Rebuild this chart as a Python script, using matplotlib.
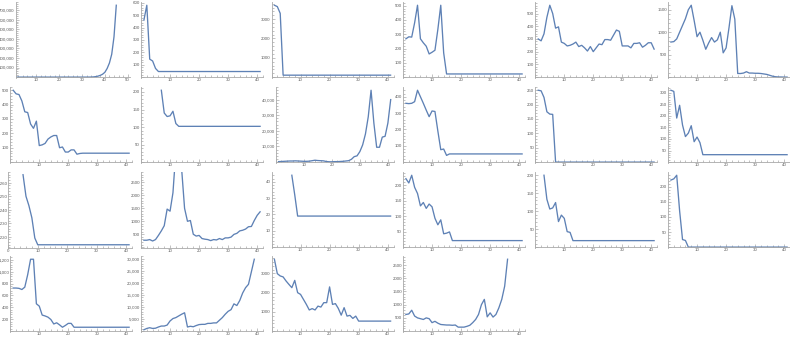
import matplotlib
matplotlib.use('Agg')
import matplotlib.pyplot as plt
from matplotlib.ticker import MultipleLocator, AutoMinorLocator, FuncFormatter

plt.rcParams['font.family'] = ['Liberation Sans', 'DejaVu Sans']

# ---- data (one series per small panel) ----
p01_start = 1
p01 = [0, 0, 0, 0, 0, 0, 0, 0, 0, 0, 0, 0, 0, 0, 0, 0, 0, 0, 0, 0,
       0, 0, 0, 0, 0, 0, 0, 0, 0, 0, 0, 0, 0, 500, 2000, 5000, 10000,
       18000, 30000, 50000, 90000, 147000, 238000, 420000, 750000]
p02_start = 1
p02 = [460, 580, 145, 130, 70, 45, 45, 45, 45, 45, 45, 45, 45, 45, 45, 45,
       45, 45, 45, 45, 45, 45, 45, 45, 45, 45, 45, 45, 45, 45, 45, 45, 45,
       45, 45, 45, 45, 45, 45, 45, 45]
p03_start = 1
p03 = [3720, 3650, 3300, 100, 100, 100, 100, 100, 100, 100, 100, 100, 100,
       100, 100, 100, 100, 100, 100, 100, 100, 100, 100, 100, 100, 100, 100,
       100, 100, 100, 100, 100, 100, 100, 100, 100, 100, 100, 100, 100, 100]
p04_start = 1
p04 = [268, 282, 280, 380, 503, 268, 240, 216, 162, 174, 188, 334, 503, 170,
       22, 22, 22, 22, 22, 22, 22, 22, 22, 22, 22, 22, 22, 22, 22, 22, 22,
       22, 22, 22, 22, 22, 22, 22, 22, 22, 22]
p05_start = 1
p05 = [300, 285, 340, 470, 565, 500, 385, 395, 275, 265, 245, 250, 260, 275,
       240, 250, 230, 205, 240, 200, 230, 260, 255, 295, 295, 290, 330, 370,
       360, 245, 245, 245, 230, 265, 265, 270, 235, 250, 270, 270, 220]
p06_start = 1
p06 = [780, 790, 850, 1000, 1150, 1300, 1500, 1600, 1260, 900, 1000, 820,
       620, 760, 880, 780, 830, 1000, 540, 650, 1100, 1590, 1290, 80, 80, 90,
       120, 90, 90, 85, 85, 80, 70, 60, 40, 20, 8, 3, 2, 0, 0]
p07_start = 1
p07 = [500, 475, 470, 425, 350, 345, 265, 235, 285, 115, 120, 130, 160, 175,
       185, 185, 100, 105, 70, 70, 85, 85, 55, 60, 62, 62, 62, 62, 62, 62,
       62, 62, 62, 62, 62, 62, 62, 62, 62, 62, 62]
p08_start = 7
p08 = [205, 140, 130, 132, 145, 110, 102, 102, 102, 102, 102, 102, 102, 102,
       102, 102, 102, 102, 102, 102, 102, 102, 102, 102, 102, 102, 102, 102,
       102, 102, 102, 102, 102, 102, 102]
p09_start = 1
p09 = [300, 400, 500, 600, 700, 700, 800, 700, 600, 500, 500, 600, 900,
       1200, 1000, 900, 800, 400, 200, 200, 300, 300, 400, 500, 700, 900,
       1800, 3500, 4000, 6700, 11000, 18000, 29000, 46000, 25000, 9500, 9500,
       16000, 16500, 25000, 40000]
p10_start = 1
p10 = [360, 358, 360, 370, 440, 400, 360, 318, 278, 313, 310, 190, 76, 80,
       41, 50, 50, 50, 50, 50, 50, 50, 50, 50, 50, 50, 50, 50, 50, 50, 50,
       50, 50, 50, 50, 50, 50, 50, 50, 50, 50]
p11_start = 1
p11 = [250, 248, 225, 175, 167, 166, 0, 0, 0, 0, 0, 0, 0, 0, 0, 0, 0, 0, 0,
       0, 0, 0, 0, 0, 0, 0, 0, 0, 0, 0, 0, 0, 0, 0, 0, 0, 0, 0, 0, 0, 0]
p12_start = 1
p12 = [310, 305, 190, 245, 160, 110, 125, 157, 88, 108, 84, 32, 32, 32, 32,
       32, 32, 32, 32, 32, 32, 32, 32, 32, 32, 32, 32, 32, 32, 32, 32, 32, 32,
       32, 32, 32, 32, 32, 32, 32, 32]
p13_start = 5
p13 = [1266, 1250, 1243, 1234, 1219, 1214, 1214, 1214, 1214, 1214, 1214,
       1214, 1214, 1214, 1214, 1214, 1214, 1214, 1214, 1214, 1214, 1214,
       1214, 1214, 1214, 1214, 1214, 1214, 1214, 1214, 1214, 1214, 1214,
       1214, 1214, 1214, 1214]
p14_start = 1
p14 = [270, 270, 295, 240, 295, 455, 630, 830, 1470, 1390, 2100, 3700, 4500,
       3000, 1500, 1000, 1030, 500, 430, 455, 335, 310, 295, 255, 295, 280,
       335, 295, 360, 360, 390, 495, 535, 630, 655, 700, 790, 800, 1030,
       1230, 1365]
p15_start = 7
p15 = [44, 32, 19, 19, 19, 19, 19, 19, 19, 19, 19, 19, 19, 19, 19, 19, 19,
       19, 19, 19, 19, 19, 19, 19, 19, 19, 19, 19, 19, 19, 19, 19, 19, 19, 19]
p16_start = 1
p16 = [221, 207, 232, 193, 173, 133, 144, 125, 139, 130, 93, 72, 88, 43, 45,
       49, 21, 21, 21, 21, 21, 21, 21, 21, 21, 21, 21, 21, 21, 21, 21, 21, 21,
       21, 21, 21, 21, 21, 21, 21, 21]
p17_start = 3
p17 = [200, 133, 106, 109, 124, 71, 89, 80, 43, 41, 18, 18, 18, 18, 18, 18,
       18, 18, 18, 18, 18, 18, 18, 18, 18, 18, 18, 18, 18, 18, 18, 18, 18, 18,
       18, 18, 18, 18, 18]
p18_start = 1
p18 = [222, 226, 238, 120, 25, 22, 0, 0, 0, 0, 0, 0, 0, 0, 0, 0, 0, 0, 0, 0,
       0, 0, 0, 0, 0, 0, 0, 0, 0, 0, 0, 0, 0, 0, 0, 0, 0, 0, 0, 0, 0]
p19_start = 1
p19 = [725, 725, 720, 700, 740, 950, 1210, 1210, 460, 420, 270, 255, 235,
       195, 120, 140, 105, 65, 95, 130, 130, 65, 65, 65, 65, 65, 65, 65, 65,
       65, 65, 65, 65, 65, 65, 65, 65, 65, 65, 65, 65]
p20_start = 1
p20 = [560, 1100, 1400, 1100, 1200, 1700, 2100, 2100, 2500, 4200, 5200, 5600,
       6300, 7000, 7600, 1700, 2000, 1800, 2300, 2700, 2800, 2800, 3200,
       3200, 3400, 3400, 4500, 5600, 7000, 8200, 8900, 11300, 10600, 12700,
       15800, 18000, 19400, 24600, 29800]
p21_start = 1
p21 = [3740, 2990, 2870, 2820, 2610, 2430, 2260, 2640, 2000, 1910, 1650,
       1390, 1100, 1170, 1100, 1300, 1250, 1480, 1480, 2300, 1390, 1430, 1180,
       830, 1220, 780, 820, 660, 780, 520, 520, 520, 520, 520, 520, 520, 520,
       520, 520, 520, 520]
p22_start = 1
p22 = [630, 650, 790, 570, 500, 470, 440, 500, 470, 320, 370, 300, 250, 240,
       230, 230, 220, 230, 150, 150, 150, 180, 220, 320, 440, 630, 1000, 1200,
       540, 690, 530, 630, 880, 1200, 1700, 2720]

series = [(p01_start, p01), (p02_start, p02), (p03_start, p03), (p04_start, p04),
          (p05_start, p05), (p06_start, p06), (p07_start, p07), (p08_start, p08),
          (p09_start, p09), (p10_start, p10), (p11_start, p11), (p12_start, p12),
          (p13_start, p13), (p14_start, p14), (p15_start, p15), (p16_start, p16),
          (p17_start, p17), (p18_start, p18), (p19_start, p19), (p20_start, p20),
          (p21_start, p21), (p22_start, p22)]

# y tick step per panel, and which panels write thousands with a comma
ysteps = [100000, 100, 1000, 100, 100, 500, 100, 50, 10000, 100, 50, 50,
          10, 500, 10, 50, 50, 50, 200, 5000, 1000, 500]
comma = [True, False, False, False, False, False, False, False, True, False,
         False, False, True, False, False, False, False, False, True, True,
         False, False]

# ---- layout (pixels) ----
W, H = 790, 340
col_left = [10.3, 141, 271.5, 403, 535.3, 668]
col_right = [132, 263, 393.5, 525, 657, 790]
row_bottom = [77, 162, 247, 331]
ph = 75

LINE = '#5e81b5'
AXIS = '#a8a8a8'
TEXT = '#606060'

fig = plt.figure(figsize=(W / 100, H / 100), dpi=100)

for i, (start, vals) in enumerate(series):
    r, c = divmod(i, 6)
    left, right = col_left[c], col_right[c]
    xlo, xhi = 0, 42
    if i == 0:
        left, right, xlo, xhi = 15.7, 130, 1, 51
    elif i == 8:
        left = 275.7
    elif i == 12:
        left = 8.3
    bot = row_bottom[r]
    ax = fig.add_axes([left / W, (H - bot - 1) / H, (right - left) / W, (ph + 1) / H])

    xs = list(range(start, start + len(vals)))
    ax.plot(xs, vals, color=LINE, lw=0.95, solid_joinstyle='round')

    vmax = max(vals)
    if i == 12:
        ax.set_ylim(1211.6, 1268)
    elif i == 13:
        ax.set_ylim(-30, 2900)
    else:
        top = vmax * 1.045
        ax.set_ylim(-top * 0.012, top)
        ax.spines['bottom'].set_position(('data', 0))
    ax.set_xlim(xlo, xhi)

    for s in ('top', 'right'):
        ax.spines[s].set_visible(False)
    for s in ('left', 'bottom'):
        ax.spines[s].set_color(AXIS)
        ax.spines[s].set_linewidth(0.6)

    ax.xaxis.set_major_locator(MultipleLocator(10))
    ax.xaxis.set_minor_locator(AutoMinorLocator(5))
    ax.yaxis.set_major_locator(MultipleLocator(ysteps[i]))
    ax.yaxis.set_minor_locator(AutoMinorLocator(5))

    show_zero = (i == 12)
    ax.xaxis.set_major_formatter(FuncFormatter(
        lambda v, p, z=show_zero: '' if (v == 0 and not z) else f'{v:.0f}'))
    ax.yaxis.set_major_formatter(FuncFormatter(
        lambda v, p, cm=comma[i]: '' if v == 0 else (f'{v:,.0f}' if cm else f'{v:.0f}')))

    ax.tick_params(which='both', direction='in', colors=AXIS, labelcolor=TEXT,
                   labelsize=3.2, pad=0.7, width=0.5)
    ax.tick_params(which='major', length=2.2)
    ax.tick_params(which='minor', length=1.2)
    ax.patch.set_alpha(0)

fig.savefig('out.png', dpi=100)
